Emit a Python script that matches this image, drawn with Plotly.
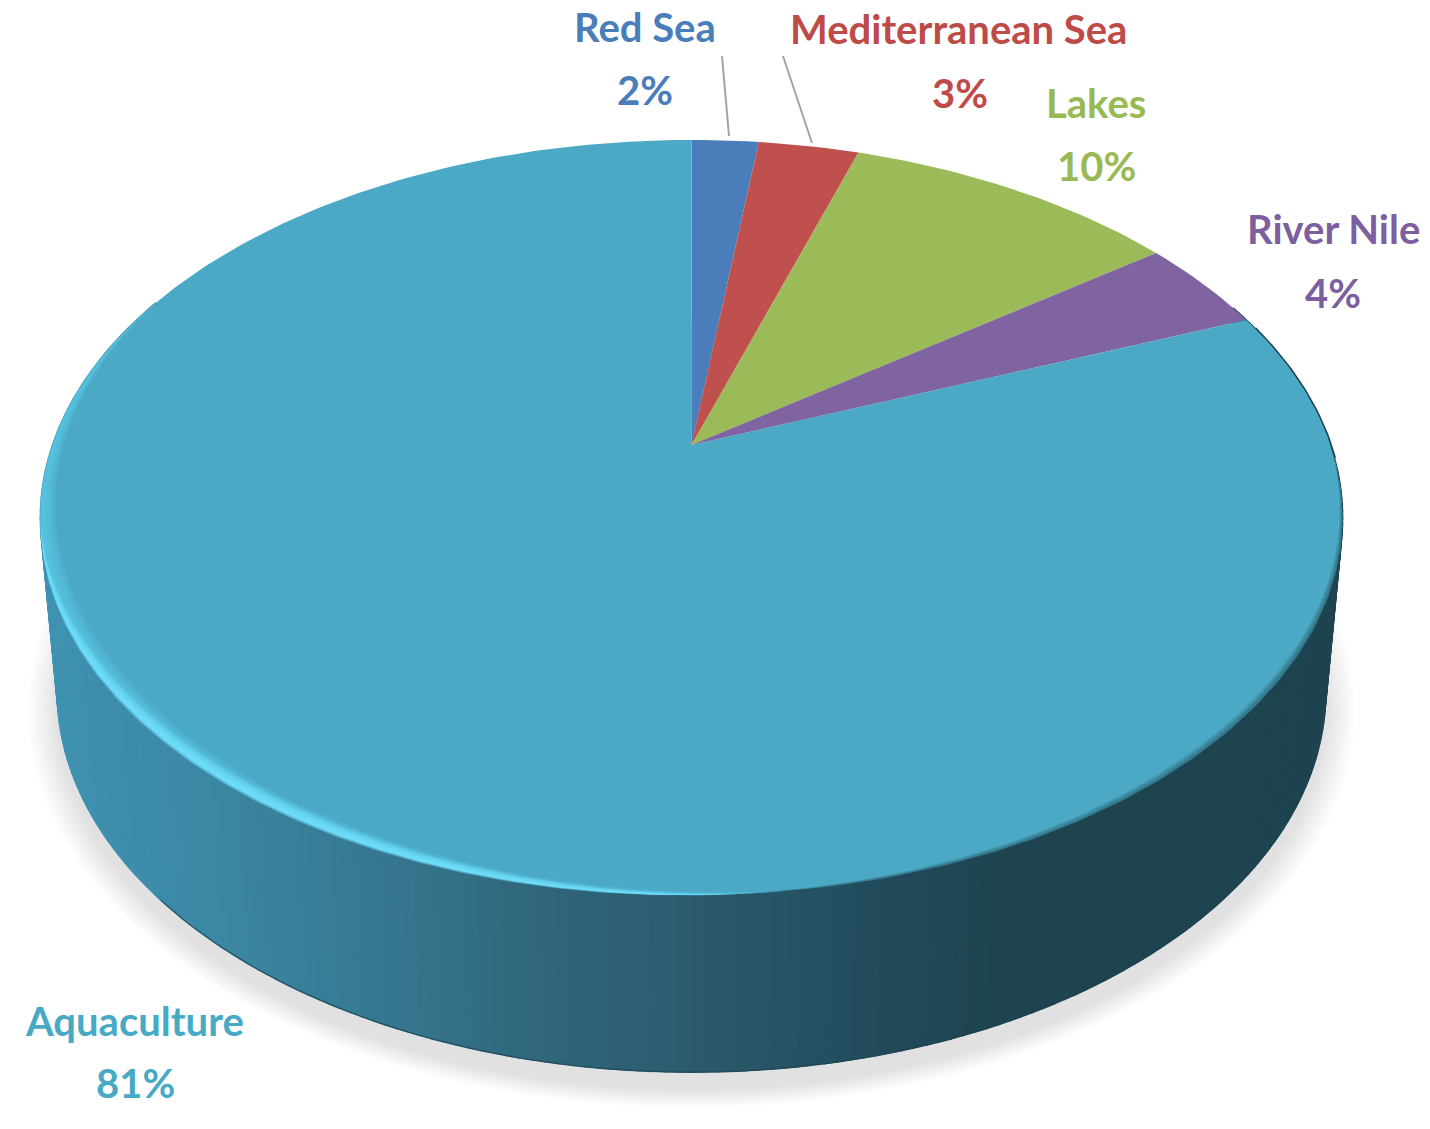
import numpy as np
import plotly.graph_objects as go

# ---- data ----
categories = ["Red Sea", "Mediterranean Sea", "Lakes", "River Nile", "Aquaculture"]
shares = [2, 3, 10, 4, 81]
percent_labels = ["2%", "3%", "10%", "4%", "81%"]

# ---- styles and placements ----
slice_colors = ["#4a7ebb", "#c0504d", "#9bbb59", "#8064a2", "#4ba9c6"]
text_colors = ["#4a7ebb", "#be4b48", "#98b954", "#7d5fa0", "#46aac5"]
name_xy = [(645, 27), (958, 29), (1096, 103), (1333, 229), (134, 1021)]
pct_xy = [(645, 90), (960, 93), (1096, 166), (1333, 293), (135, 1083)]
leaders = [((722, 56), (729, 136)), ((783, 56), (812, 143))]
FONT = "Lato"
FSIZE = 40

W, H = 1430, 1129
CX, RX, RY, K = 691.5, 639.0, 363.6, 0.192


def project(theta, level="top", scale=1.0):
    """Perspective projection of a plan-view point on the pie (theta clockwise from 12 o'clock)."""
    theta = np.asarray(theta, dtype=float)
    u, v = scale * np.sin(theta), scale * np.cos(theta)
    w = 1 + K * v
    if level == "top":
        sx, sy, ay = 1.0, 1.0, 445.0
    else:
        sx, sy, ay = 0.974, 1.007, 619.0
    return CX + sx * RX * u / w, ay - sy * RY * v / w


def hex_rgb(h):
    return [int(h[i:i + 2], 16) for i in (1, 3, 5)]


wall_x = [50, 200, 400, 520, 700, 900, 1000, 1340]
wall_c = [hex_rgb(c) for c in ["#3f92b0", "#3b88a5", "#36768e", "#30687d", "#2c5a6c", "#20495a", "#1e4450", "#1e4450"]]


def wall_color(x):
    return "rgb(%d,%d,%d)" % tuple(round(float(np.interp(x, wall_x, [c[i] for c in wall_c]))) for i in range(3))


fig = go.Figure()


def poly(x, y, color, opacity=1.0, line=0):
    fig.add_trace(go.Scatter(
        x=x, y=y, mode="lines", fill="toself", fillcolor=color, opacity=opacity,
        line=dict(color=color, width=line), hoverinfo="skip", showlegend=False))


def stroke(x, y, color, width, opacity=1.0):
    fig.add_trace(go.Scatter(
        x=x, y=y, mode="lines", line=dict(color=color, width=width), opacity=opacity,
        hoverinfo="skip", showlegend=False))


# soft drop shadow under the disc
full = np.linspace(0, 2 * np.pi, 241)
bx, by = project(full, "bottom")
LAYERS = 30
for i in range(LAYERS):
    t = 1 - i / (LAYERS - 1)
    grow = 1 + 0.048 * t
    poly(CX + (bx - CX) * grow, 710 + (by - 692) * grow, "#000000", opacity=0.004)

# side wall, as shaded strips around the front of the rim
edges = np.radians(np.arange(66, 296, 1))
for a, b in zip(edges[:-1], edges[1:]):
    tx, ty = project([a, b], "top")
    ux, uy = project([b, a], "bottom")
    poly(list(tx) + list(ux) + [tx[0]], list(ty) + list(uy) + [ty[0]],
         wall_color((tx.mean() + ux.mean()) / 2), line=1.5)

# dark hairline round the base and the rear right of the disc
stroke(*project(np.radians(np.linspace(110, 228, 120)), "bottom"), "#1e4450", 1.2, 0.75)
stroke(*project(np.radians(np.linspace(70, 92, 30)), "top", 1.001), "#1e4450", 2)

# top faces, one wedge per category, angles from the shares
fractions = np.array(shares, dtype=float) / sum(shares)
starts = np.concatenate([[0], np.cumsum(fractions)[:-1]])
for start, frac, color in zip(starts, fractions, slice_colors):
    n = max(4, int(frac * 360))
    th = 2 * np.pi * (start + np.linspace(0, frac, n))
    x, y = project(th, "top")
    ax, ay = project([0.0], "top", 0.0)
    poly(np.r_[ax, x, ax], np.r_[ay, y, ay], color)


def crescent(t0, t1, depth, outer, color, opacity):
    th = np.radians(np.linspace(t0, t1, 140))
    taper = np.sin(np.pi * np.linspace(0, 1, 140))
    u0, v0 = np.sin(th), np.cos(th)
    so, si = 1 + outer * taper, 1 - depth * taper
    w = 1 + K * v0 * so
    ox, oy = CX + RX * so * u0 / w, 445 - RY * so * v0 / w
    w = 1 + K * v0 * si
    ix, iy = CX + RX * si * u0 / w, 445 - RY * si * v0 / w
    poly(np.r_[ox, ix[::-1]], np.r_[oy, iy[::-1]], color, opacity=opacity)


# blurred bright bevel on the lower left
for d in np.linspace(0.028, 0.004, 8):
    crescent(172, 296, d, 0.0005, "#58c8e8", 0.2)
for d in np.linspace(0.017, 0.003, 6):
    crescent(176, 258, d, 0.005 * d / 0.017, "#74e2ff", 0.25)
# soft dark bevel on the lower right
for d in np.linspace(0.010, 0.002, 5):
    crescent(88, 178, d, 0, "#1e4450", 0.13)

# leader lines
for p, q in leaders:
    stroke([p[0], q[0]], [p[1], q[1]], "#a3a3a3", 2)

# labels
for name, pct, color, nxy, pxy in zip(categories, percent_labels, text_colors, name_xy, pct_xy):
    for txt, xy in ((name, nxy), (pct, pxy)):
        fig.add_annotation(x=xy[0], y=xy[1], text="<b>%s</b>" % txt, showarrow=False,
                           xanchor="center", yanchor="middle",
                           font=dict(family=FONT, size=FSIZE, color=color))

fig.update_layout(
    width=W, height=H, margin=dict(l=0, r=0, t=0, b=0),
    paper_bgcolor="white", plot_bgcolor="white", showlegend=False,
    xaxis=dict(range=[0, W], visible=False, fixedrange=True),
    yaxis=dict(range=[H, 0], visible=False, fixedrange=True),
)
fig.write_html("out.html", config=dict(displayModeBar=False),
               post_script="document.body.style.margin='0';")
